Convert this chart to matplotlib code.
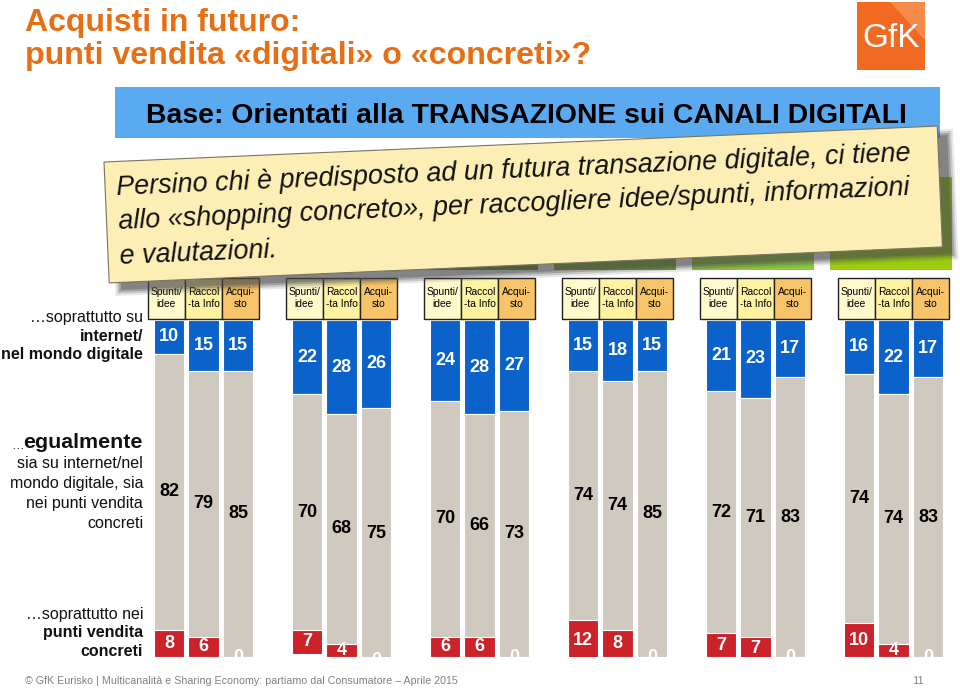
import matplotlib
matplotlib.use("Agg")
import matplotlib.pyplot as plt
from matplotlib.patches import Rectangle, Polygon
import numpy as np

plt.rcParams['font.family'] = ['Liberation Sans', 'DejaVu Sans']

# ---------------- data ----------------
stages = ["Spunti/\nidee", "Raccol\n-ta Info", "Acqui-\nsto"]
n_groups = 6
digital = [[10, 15, 15], [22, 28, 26], [24, 28, 27],
           [15, 18, 15], [21, 23, 17], [16, 22, 17]]
both = [[82, 79, 85], [70, 68, 75], [70, 66, 73],
        [74, 74, 85], [72, 71, 83], [74, 74, 83]]
physical = [[8, 6, 0], [7, 4, 0], [6, 6, 0],
            [12, 8, 0], [7, 7, 0], [10, 4, 0]]

title_lines = ["Acquisti in futuro:", "punti vendita «digitali» o «concreti»?"]
base_text = "Base: Orientati alla TRANSAZIONE sui CANALI DIGITALI"
note_text = ("Persino chi è predisposto ad un futura transazione digitale, ci tiene\n"
             "allo «shopping concreto», per raccogliere idee/spunti, informazioni\n"
             "e valutazioni.")
footer = "© GfK Eurisko | Multicanalità e Sharing Economy: partiamo dal Consumatore – Aprile 2015"

# ---------------- style ----------------
C_BLUE = "#0A62CA"
C_BEIGE = "#D0C9BF"
C_RED = "#CC2229"
C_ORANGE = "#E66F16"
HDR_COLORS = ["#FFFACB", "#FFF2A0", "#F8C46A"]
GREEN_COLORS = ["#4E7F1E", "#5F9426", "#5B8C23", "#72A52C", "#8DC63F", "#9ACD10"]

fig = plt.figure(figsize=(9.6, 6.91), dpi=100)
renderer = fig.canvas.get_renderer()

def fit_width(t, target):
    bb = t.get_window_extent(renderer=renderer)
    t.set_fontsize(t.get_fontsize() * target / bb.width)
    return t

# ---------------- bar axes ----------------
ax = fig.add_axes([151.75 / 960, (691 - 657) / 691, 793.5 / 960, 380 / 691])
ax.set_xlim(-0.5, 22.5)
ax.set_ylim(100, -12.76)
ax.axis('off')

d = np.array(digital, dtype=float)
m = np.array(both, dtype=float)
p = np.array(physical, dtype=float)
xs = np.array([[4 * g + b for b in range(3)] for g in range(n_groups)], dtype=float)

xf, df, mf, pf = xs.ravel(), d.ravel(), m.ravel(), p.ravel()
w = 0.87
ax.bar(xf, df, width=w, bottom=0, color=C_BLUE, edgecolor='white', linewidth=0.8)
ax.bar(xf, mf, width=w, bottom=df, color=C_BEIGE, edgecolor='white', linewidth=0.8)
ax.bar(xf, pf, width=w, bottom=df + mf, color=C_RED, edgecolor='white', linewidth=0.8)

lab_kw = dict(ha='center', va='center', fontsize=13, fontweight='bold', clip_on=True)
for x, a, b, c in zip(xf, df, mf, pf):
    ax.text(x, a / 2, f"{int(a)}", color='white', **lab_kw)
    ax.text(x, a + b / 2, f"{int(b)}", color='black', **lab_kw)
    ax.text(x, a + b + c / 2, f"{int(c)}", color='white', **lab_kw)

# stage header boxes
for g in range(n_groups):
    for b in range(3):
        x = xs[g, b] + 0.08 * (b - 1)
        ax.add_patch(Rectangle((x - 0.54, -12.6), 1.08, 12.3, facecolor=HDR_COLORS[b],
                               edgecolor='#222222', linewidth=1.0, clip_on=False))
        ax.text(x, -6.45, stages[b], ha='center', va='center', fontsize=7.4,
                linespacing=1.2, clip_on=False)
    # group title boxes (mostly hidden behind the note)
    ax.add_patch(Rectangle((4 * g - 0.85, -42.4), 3.55, 27.6, facecolor=GREEN_COLORS[g],
                           edgecolor='none', clip_on=False, zorder=0))

# ---------------- overlay (page decorations) ----------------
ov = fig.add_axes([0, 0, 1, 1], zorder=5)
ov.set_xlim(0, 960)
ov.set_ylim(691, 0)
ov.axis('off')

t1 = ov.text(25, 31, title_lines[0], fontsize=21, fontweight='bold', color=C_ORANGE,
             va='baseline', ha='left')
fit_width(t1, 275)
t2 = ov.text(25, 64, title_lines[1], fontsize=21, fontweight='bold', color=C_ORANGE,
             va='baseline', ha='left')
fit_width(t2, 565)

# logo
ov.add_patch(Rectangle((857, 2), 68, 68, facecolor="#F26A21", edgecolor='none'))
ov.add_patch(Polygon([(890, 2), (925, 2), (925, 40)], closed=True, facecolor="#F58A4A",
                     edgecolor='none'))
ov.text(891, 38, "GfK", color='white', fontsize=24, ha='center', va='center')

# base box
ov.add_patch(Rectangle((115, 87), 825, 51, facecolor="#5AAAF2", edgecolor='none', zorder=1))
tb = ov.text(526, 123, base_text, fontsize=19, fontweight='bold',
             ha='center', va='baseline', zorder=2)
fit_width(tb, 759)

# note box with shadow
theta = np.deg2rad(2.47)
W, H = 834, 121
x0, y0 = 104, 162
ux = np.array([np.cos(theta), -np.sin(theta)])
uy = np.array([np.sin(theta), np.cos(theta)])
def corners(ox, oy, pad=0):
    o = np.array([ox, oy]) - pad * ux - pad * uy
    return [o, o + (W + 2 * pad) * ux, o + (W + 2 * pad) * ux + (H + 2 * pad) * uy,
            o + (H + 2 * pad) * uy]
for pad, al in [(5, 0.12), (3, 0.2), (1, 0.3), (-1, 0.35)]:
    ov.add_patch(Polygon(corners(x0 + 11, y0 + 8, pad), closed=True, facecolor='#4A4A4A',
                         edgecolor='none', alpha=al, zorder=3))
ov.add_patch(Polygon(corners(x0, y0), closed=True, facecolor="#FCEEB4",
                     edgecolor='#7A7460', linewidth=0.8, zorder=4))
tn = ov.text(116, 175, note_text, fontsize=18, fontstyle='italic', rotation=0,
             rotation_mode='anchor', ha='left', va='top', linespacing=1.4, zorder=5,
             color='#111111')
fit_width(tn, 790.7)
em_px = tn.get_fontsize() * 100 / 72
tn.set_linespacing(35.0 / (0.92 * em_px))
tn.set_rotation(2.47)

# row labels
R = 143
def lab(y, s, bold=False, size=11.5):
    ov.text(R, y, s, ha='right', va='center', fontsize=size,
            fontweight='bold' if bold else 'normal', color='#111111')
lab(317, "…soprattutto su")
lab(336, "internet/", True)
lab(354, "nel mondo digitale", True)
lab(442, "egualmente", True, 15.4)
ov.text(24, 446, "…", ha='right', va='center', fontsize=9, color='#111111')
lab(463, "sia su internet/nel")
lab(483, "mondo digitale, sia")
lab(503, "nei punti vendita")
lab(523, "concreti")
lab(615, "…soprattutto nei")
lab(633, "punti vendita", True)
lab(652, "concreti", True)

# footer
ov.text(25, 681, footer, fontsize=7.7, color='#808080', ha='left', va='center')
ov.text(918, 681, "11", fontsize=8, color='#808080', ha='center', va='center')

fig.savefig("out.png", dpi=100)
